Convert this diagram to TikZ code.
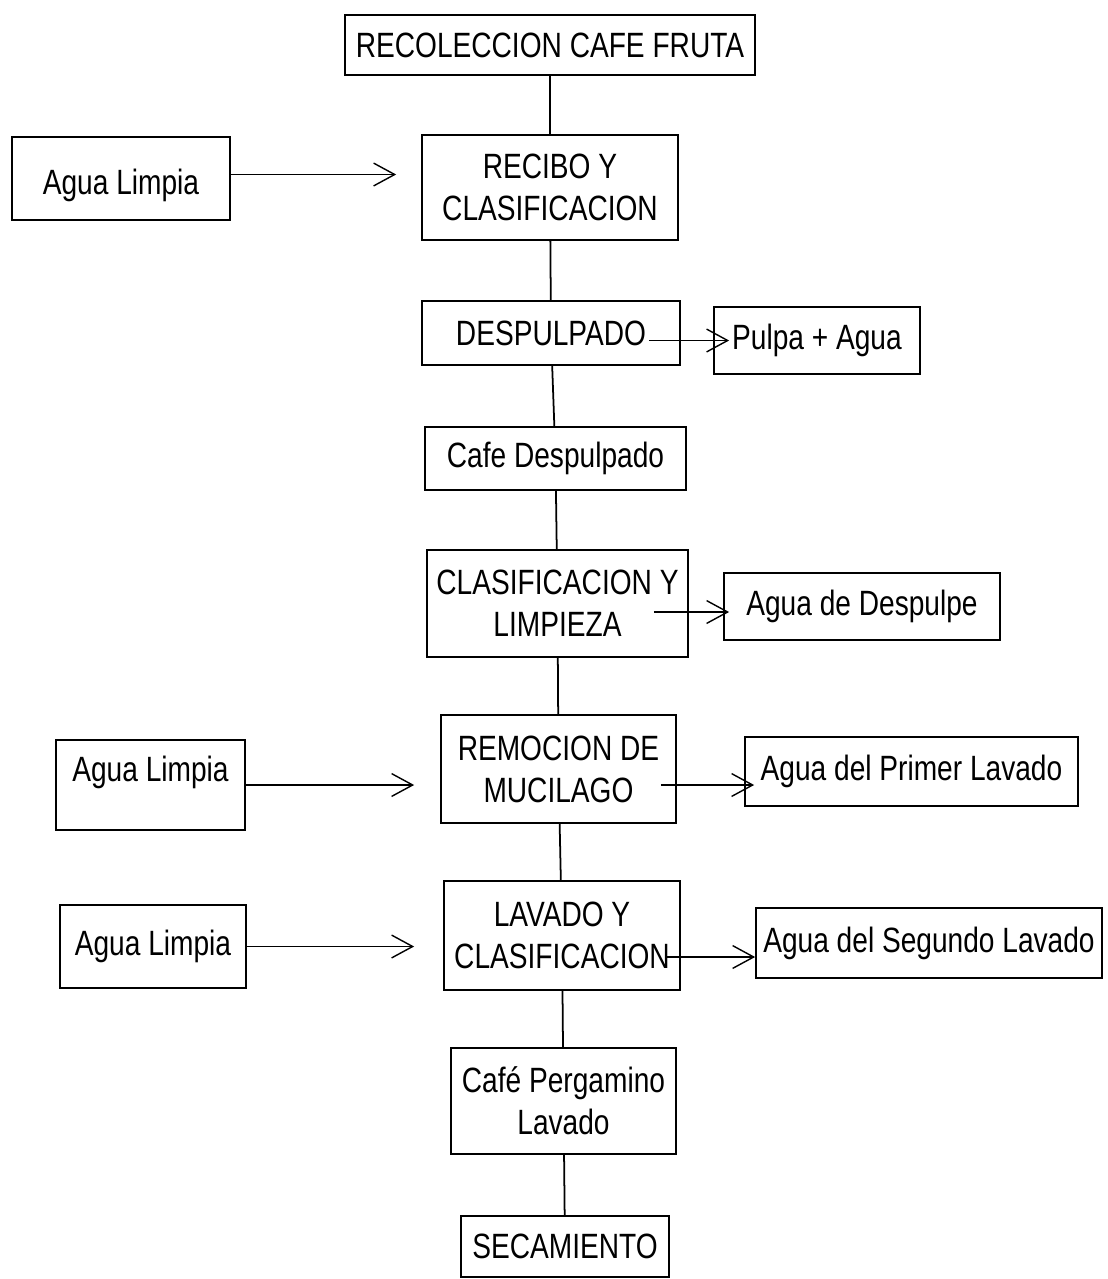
\documentclass[tikz,border=0pt]{standalone}
\usepackage{fontspec}
\setmainfont[FakeStretch=0.8]{Liberation Sans}
\usetikzlibrary{arrows.meta}

\begin{document}
\begin{tikzpicture}[x=0.02cm, y=-0.02cm]
	\tikzstyle{every node}=[draw, line width=1pt, inner sep=1pt, align=center, font=\fontsize{20}{24}\selectfont]
	\tikzstyle{flow}=[-{Straight Barb[length=12pt, width=13pt, line width=0.8pt]}, line width=0.8pt]
	\useasboundingbox (0, 0) rectangle (1108, 1279);
	% main line
	\node (recol) at (550, 45) [minimum width=8.2cm, minimum height=1.2cm] {RECOLECCION CAFE FRUTA};
	\node (recibo) at (550, 187.5) [minimum width=5.12cm, minimum height=2.1cm] {RECIBO Y\\CLASIFICACION};
	\node (desp) at (551, 333) [minimum width=5.16cm, minimum height=1.28cm] {DESPULPADO};
	\node (cafed) at (555.5, 458.5) [minimum width=5.22cm, minimum height=1.26cm] {Cafe Despulpado};
	\node (clasif) at (557.5, 603.5) [minimum width=5.22cm, minimum height=2.14cm] {CLASIFICACION Y\\LIMPIEZA};
	\node (remoc) at (558.5, 769) [minimum width=4.7cm, minimum height=2.16cm] {REMOCION DE\\MUCILAGO};
	\node (lavado) at (562, 935.5) [minimum width=4.72cm, minimum height=2.18cm] {LAVADO Y\\CLASIFICACION};
	\node (pergam) at (563.5, 1101) [minimum width=4.5cm, minimum height=2.12cm] {Café Pergamino\\Lavado};
	\node (secam) at (565, 1246.5) [minimum width=4.16cm, minimum height=1.22cm] {SECAMIENTO};
	% entradas y salidas
	\node (agua1) at (121, 178.5) [minimum width=4.36cm, minimum height=1.66cm, text height=0.78cm] {Agua Limpia};
	\node (agua2) at (150.5, 785) [minimum width=3.78cm, minimum height=1.8cm, text depth=0.63cm] {Agua Limpia};
	\node (agua3) at (153, 946.5) [minimum width=3.72cm, minimum height=1.66cm] {Agua Limpia};
	\node (pulpa) at (817, 340.5) [minimum width=4.12cm, minimum height=1.34cm] {Pulpa + Agua};
	\node (despulpe) at (862, 606.5) [minimum width=5.52cm, minimum height=1.34cm] {Agua de Despulpe};
	\node (primer) at (911.5, 771.5) [minimum width=6.66cm, minimum height=1.38cm] {Agua del Primer Lavado};
	\node (segundo) at (929, 943) [minimum width=6.92cm, minimum height=1.4cm] {Agua del Segundo Lavado};

	\draw [line width=1pt] (recol) -- (recibo);
	\draw [line width=1pt] (recibo) -- (desp);
	\draw [line width=1pt] (desp) -- (cafed);
	\draw [line width=1pt] (cafed) -- (clasif);
	\draw [line width=1pt] (clasif) -- (remoc);
	\draw [line width=1pt] (remoc) -- (lavado);
	\draw [line width=1pt] (lavado) -- (pergam);
	\draw [line width=1pt] (pergam) -- (secam);

	\draw [flow, shorten >=0.5cm] ([yshift=0.08cm]agua1.east) -- ([yshift=0.08cm]agua1.east -| recibo.west);
	\draw [flow, shorten >=0.52cm] (agua2.east) -- (agua2.east -| remoc.west);
	\draw [flow, shorten >=0.58cm] (agua3.east) -- (agua3.east -| lavado.west);
	\draw [flow, shorten <=-0.64cm, shorten >=-0.32cm] (pulpa.west -| desp.east) -- (pulpa.west);
	\draw [flow, shorten <=-0.7cm, shorten >=-0.12cm] ([yshift=-0.11cm]despulpe.west -| clasif.east) -- ([yshift=-0.11cm]despulpe.west);
	\draw [flow, shorten <=-0.32cm, shorten >=-0.2cm] (agua2.east -| remoc.east) -- (agua2.east -| primer.west);
	\draw [flow, shorten <=-0.3cm, shorten >=0cm] ([yshift=-0.43cm]lavado.east) -- ([yshift=-0.43cm]lavado.east -| segundo.west);
\end{tikzpicture}
\end{document}
